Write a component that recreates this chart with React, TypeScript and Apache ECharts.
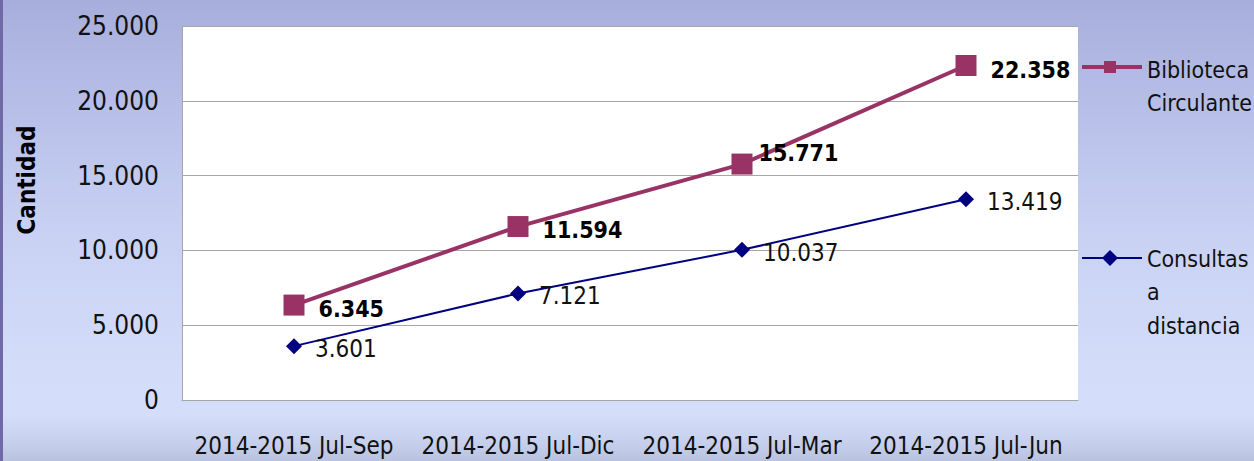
import React, { useEffect, useRef } from "react";
import * as echarts from "echarts";

const categories = [
  "2014-2015 Jul-Sep",
  "2014-2015 Jul-Dic",
  "2014-2015 Jul-Mar",
  "2014-2015 Jul-Jun",
];
const bibliotecaValues = [6345, 11594, 15771, 22358];
const consultasValues = [3601, 7121, 10037, 13419];
const seriesNames = ["Biblioteca Circulante", "Consultas a distancia"];
const yTicks = { min: 0, max: 25000, interval: 5000 };

const FONT = '"DejaVu Sans Condensed", "Liberation Sans Narrow", sans-serif';
const MAROON = "#993366";
const NAVY = "#000080";
const GRID_GRAY = "#a6a6a6";

const fmt = (v: number) =>
  String(Math.round(v)).replace(/\B(?=(\d{3})+(?!\d))/g, ".");

export default function App() {
  const ref = useRef<HTMLDivElement>(null);
  useEffect(() => {
    if (!ref.current) return;
    const chart = echarts.init(ref.current, null, { renderer: "svg" });
    const bibLabelOffsets = [
      [0, 4],
      [0, 3],
      [-8, -11],
      [0, 4],
    ];
    const legendText = (text: string, x: number, y: number) => ({
      type: "text",
      x,
      y,
      style: {
        text,
        fontFamily: FONT,
        fontSize: 23,
        fill: "#111",
        verticalAlign: "middle",
      },
    });
    chart.setOption({
      animation: false,
      backgroundColor: "transparent",
      grid: {
        left: 182,
        right: 176,
        top: 26,
        bottom: 61,
        show: true,
        backgroundColor: "#ffffff",
        borderWidth: 0,
      },
      xAxis: {
        type: "category",
        data: categories,
        boundaryGap: true,
        axisLine: { show: true, lineStyle: { color: GRID_GRAY, width: 1 } },
        axisTick: { show: false },
        axisLabel: {
          color: "#111",
          fontFamily: FONT,
          fontSize: 24,
          margin: 34,
          interval: 0,
        },
      },
      yAxis: {
        type: "value",
        min: yTicks.min,
        max: yTicks.max,
        interval: yTicks.interval,
        axisLine: { show: true, lineStyle: { color: GRID_GRAY, width: 1 } },
        axisTick: { show: false },
        splitLine: { show: true, lineStyle: { color: GRID_GRAY, width: 1 } },
        axisLabel: {
          color: "#111",
          fontFamily: FONT,
          fontSize: 26,
          margin: 23,
          formatter: (v: number) => fmt(v),
        },
      },
      series: [
        {
          name: seriesNames[0],
          type: "line",
          data: bibliotecaValues.map((v, i) => ({
            value: v,
            label: { offset: bibLabelOffsets[i] },
          })),
          symbol: "rect",
          symbolSize: 21,
          itemStyle: { color: MAROON },
          lineStyle: { color: MAROON, width: 4 },
          z: 3,
          label: {
            show: true,
            position: "right",
            distance: 14,
            color: "#000",
            fontFamily: FONT,
            fontWeight: "bold",
            fontSize: 23,
            formatter: (p: any) => fmt(p.value),
          },
        },
        {
          name: seriesNames[1],
          type: "line",
          data: consultasValues,
          symbol: "diamond",
          symbolSize: 16,
          itemStyle: { color: NAVY },
          lineStyle: { color: NAVY, width: 2 },
          z: 2,
          label: {
            show: true,
            position: "right",
            distance: 13,
            offset: [0, 3],
            color: "#111",
            fontFamily: FONT,
            fontSize: 24,
            formatter: (p: any) => fmt(p.value),
          },
        },
      ],
      graphic: [
        {
          type: "rect",
          shape: { x: 0, y: 0, width: 3, height: 461 },
          style: { fill: "#6e6aa6" },
          silent: true,
        },
        {
          type: "text",
          x: 27,
          y: 180,
          rotation: Math.PI / 2,
          style: {
            text: "Cantidad",
            fontFamily: FONT,
            fontWeight: "bold",
            fontSize: 24,
            fill: "#000",
            align: "center",
            verticalAlign: "middle",
          },
        },
        // Legend: Biblioteca Circulante
        {
          type: "line",
          shape: { x1: 1082, y1: 67, x2: 1142, y2: 67 },
          style: { stroke: MAROON, lineWidth: 4 },
        },
        {
          type: "rect",
          shape: { x: 1104, y: 61, width: 12, height: 12 },
          style: { fill: MAROON },
        },
        legendText("Biblioteca", 1147, 70),
        legendText("Circulante", 1147, 103),
        // Legend: Consultas a distancia
        {
          type: "line",
          shape: { x1: 1082, y1: 258, x2: 1142, y2: 258 },
          style: { stroke: NAVY, lineWidth: 2 },
        },
        {
          type: "polygon",
          shape: {
            points: [
              [1110, 250],
              [1118, 258],
              [1110, 266],
              [1102, 258],
            ],
          },
          style: { fill: NAVY },
        },
        legendText("Consultas", 1147, 259),
        legendText("a", 1147, 292),
        legendText("distancia", 1147, 326),
      ],
    });
    return () => chart.dispose();
  }, []);
  return (
    <div
      ref={ref}
      style={{
        position: "absolute",
        left: 0,
        top: 0,
        width: 1254,
        height: 461,
        background:
          "linear-gradient(to bottom, #a7aedb 0%, #b6bee8 22%, #c8d1f3 50%, #d3ddf9 80%, #d4defa 90%, #c6d0ec 96%, #b9c3e0 100%)",
      }}
    />
  );
}
